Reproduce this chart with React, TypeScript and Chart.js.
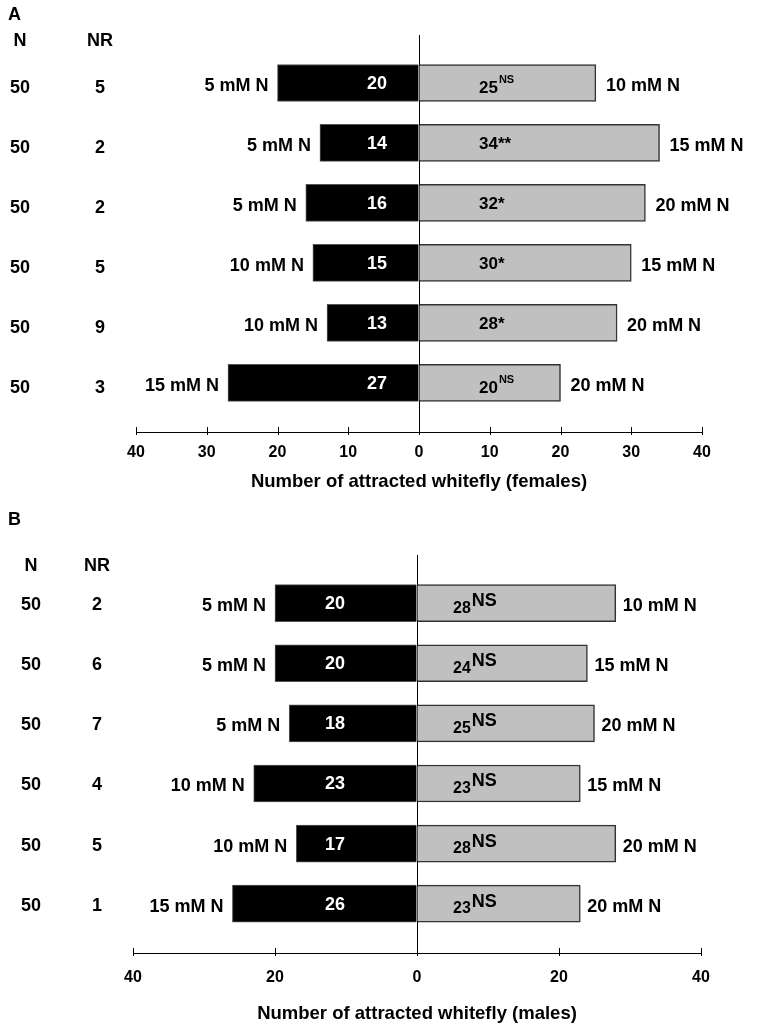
import React, { useEffect, useRef } from 'react';
import { Chart, registerables } from 'chart.js';

Chart.register(...registerables);

// ---------- DATA ----------
const rows = [1, 2, 3, 4, 5, 6];

const leftTreatA = ['5 mM N', '5 mM N', '5 mM N', '10 mM N', '10 mM N', '15 mM N'];
const rightTreatA = ['10 mM N', '15 mM N', '20 mM N', '15 mM N', '20 mM N', '20 mM N'];
const leftCountA = [20, 14, 16, 15, 13, 27];
const rightCountA = [25, 34, 32, 30, 28, 20];
const sigA = ['NS', '**', '*', '*', '*', 'NS'];
const nA = [50, 50, 50, 50, 50, 50];
const nrA = [5, 2, 2, 5, 9, 3];
const tickStepA = 10;
const titleA = 'Number of attracted whitefly (females)';

const leftTreatB = ['5 mM N', '5 mM N', '5 mM N', '10 mM N', '10 mM N', '15 mM N'];
const rightTreatB = ['10 mM N', '15 mM N', '20 mM N', '15 mM N', '20 mM N', '20 mM N'];
const leftCountB = [20, 20, 18, 23, 17, 26];
const rightCountB = [28, 24, 25, 23, 28, 23];
const sigB = ['NS', 'NS', 'NS', 'NS', 'NS', 'NS'];
const nB = [50, 50, 50, 50, 50, 50];
const nrB = [2, 6, 7, 4, 5, 1];
const tickStepB = 20;
const titleB = 'Number of attracted whitefly (males)';

const FONT = '"Liberation Sans", Arial, Helvetica, sans-serif';

type Panel = {
  letter: string;
  leftTreat: string[];
  rightTreat: string[];
  leftCount: number[];
  rightCount: number[];
  sig: string[];
  n: number[];
  nr: number[];
  tickStep: number;
  title: string;
  top: number;
  height: number;
  padLeft: number;
  padRight: number;
  chartTop: number;
  chartBottom: number;
  tickPad: number;
  titlePadBottom: number;
  letterY: number;
  headerDy: number;
  colN: number;
  colNR: number;
  colDy: number;
  gapL: number;
  gapR: number;
  leftValOffset: number;
  rightValOffset: number;
  bigSig: boolean;
};

const panels: Panel[] = [
  {
    letter: 'A', leftTreat: leftTreatA, rightTreat: rightTreatA, leftCount: leftCountA,
    rightCount: rightCountA, sig: sigA, n: nA, nr: nrA, tickStep: tickStepA, title: titleA,
    top: 0, height: 505, padLeft: 136, padRight: 56, chartTop: 35, chartBottom: 432,
    tickPad: 11, titlePadBottom: 12, letterY: 15, headerDy: -42, colN: 20, colNR: 100, colDy: 5,
    gapL: 9, gapR: 10, leftValOffset: 42, rightValOffset: 60, bigSig: false,
  },
  {
    letter: 'B', leftTreat: leftTreatB, rightTreat: rightTreatB, leftCount: leftCountB,
    rightCount: rightCountB, sig: sigB, n: nB, nr: nrB, tickStep: tickStepB, title: titleB,
    top: 505, height: 531, padLeft: 133, padRight: 57, chartTop: 50, chartBottom: 448,
    tickPad: 15, titlePadBottom: 11, letterY: 15, headerDy: -37, colN: 31, colNR: 97, colDy: 2,
    gapL: 9, gapR: 7, leftValOffset: 82, rightValOffset: 36, bigSig: true,
  },
];

function PanelChart({ p }: { p: Panel }) {
  const ref = useRef<HTMLCanvasElement | null>(null);

  useEffect(() => {
    if (!ref.current) return;
    const textPlugin = {
      id: 'panelText',
      afterDraw(chart: any) {
        const ctx = chart.ctx as CanvasRenderingContext2D;
        const xs = chart.scales.x;
        const ys = chart.scales.y;
        const zero = xs.getPixelForValue(0);
        const axisY = chart.chartArea.bottom;
        ctx.save();
        ctx.strokeStyle = '#000';
        ctx.lineWidth = 1;
        xs.ticks.forEach((t: any) => {
          const px = Math.round(xs.getPixelForValue(t.value)) + 0.5;
          ctx.beginPath();
          ctx.moveTo(px, axisY - 5);
          ctx.lineTo(px, axisY + 3);
          ctx.stroke();
        });
        ctx.fillStyle = '#000';
        ctx.font = `bold 18px ${FONT}`;
        ctx.textAlign = 'left';
        ctx.textBaseline = 'middle';
        ctx.fillText(p.letter, 8, p.letterY);
        const y1 = ys.getPixelForValue(rows[0]);
        ctx.textAlign = 'center';
        ctx.fillText('N', p.colN, y1 + p.headerDy);
        ctx.fillText('NR', p.colNR, y1 + p.headerDy);

        rows.forEach((r, i) => {
          const y = ys.getPixelForValue(r);
          ctx.font = `bold 18px ${FONT}`;
          ctx.fillStyle = '#000';
          ctx.textAlign = 'center';
          ctx.fillText(String(p.n[i]), p.colN, y + p.colDy);
          ctx.fillText(String(p.nr[i]), p.colNR, y + p.colDy);
          ctx.textAlign = 'right';
          ctx.fillText(p.leftTreat[i], xs.getPixelForValue(-p.leftCount[i]) - p.gapL, y + 3);
          ctx.textAlign = 'left';
          ctx.fillText(p.rightTreat[i], xs.getPixelForValue(p.rightCount[i]) + p.gapR, y + 3);
          ctx.fillStyle = '#fff';
          ctx.textAlign = 'center';
          ctx.fillText(String(p.leftCount[i]), zero - p.leftValOffset, y + 1);
          ctx.fillStyle = '#000';
          ctx.textAlign = 'left';
          const x0 = zero + p.rightValOffset;
          const num = String(p.rightCount[i]);
          if (p.bigSig) {
            ctx.font = `bold 16px ${FONT}`;
            ctx.fillText(num, x0, y + 5);
            const w = ctx.measureText(num).width;
            ctx.font = `bold 18px ${FONT}`;
            ctx.fillText(p.sig[i], x0 + w + 1, y - 2);
          } else if (p.sig[i] === 'NS') {
            ctx.font = `bold 17px ${FONT}`;
            ctx.fillText(num, x0, y + 5);
            const w = ctx.measureText(num).width;
            ctx.font = `bold 11px ${FONT}`;
            ctx.fillText(p.sig[i], x0 + w + 1, y - 3);
          } else {
            ctx.font = `bold 17px ${FONT}`;
            ctx.fillText(num + p.sig[i], x0, y + 1);
          }
        });
        ctx.restore();
      },
    };

    const chart = new Chart(ref.current, {
      type: 'bar',
      data: {
        datasets: [
          {
            data: rows.map((r, i) => ({ x: -p.leftCount[i], y: r })),
            backgroundColor: '#000000',
            borderColor: '#555555',
            borderWidth: 1,
            barThickness: 37,
            grouped: false,
          } as any,
          {
            data: rows.map((r, i) => ({ x: p.rightCount[i], y: r })),
            backgroundColor: '#c0c0c0',
            borderColor: '#333333',
            borderWidth: 1.5,
            barThickness: 37,
            grouped: false,
          } as any,
        ],
      },
      options: {
        indexAxis: 'y',
        animation: false,
        responsive: false,
        devicePixelRatio: 1,
        layout: { padding: { left: p.padLeft, right: p.padRight, top: p.chartTop, bottom: 0 } },
        plugins: { legend: { display: false }, tooltip: { enabled: false } },
        scales: {
          x: {
            type: 'linear',
            min: -40,
            max: 40,
            offset: false,
            afterFit: (s: any) => {
              s.height = p.height - p.chartBottom;
            },
            ticks: {
              stepSize: p.tickStep,
              padding: p.tickPad,
              color: '#000',
              font: { family: FONT, size: 16, weight: 'bold' },
              callback: (v: any) => String(Math.abs(Number(v))),
            },
            grid: {
              drawOnChartArea: true,
              drawTicks: false,
              offset: false,
              lineWidth: 1,
              color: (c: any) => (c.tick && c.tick.value === 0 ? '#000' : 'rgba(0,0,0,0)'),
            },
            border: { display: true, color: '#000', width: 1 },
            title: {
              display: true,
              text: p.title,
              color: '#000',
              font: { family: FONT, size: 18.5, weight: 'bold' },
              padding: { top: 0, bottom: p.titlePadBottom },
            },
          },
          y: {
            type: 'linear',
            reverse: true,
            offset: false,
            grid: { offset: false },
            min: 0.2,
            max: 6.82,
            display: false,
          },
        },
      } as any,
      plugins: [textPlugin],
    });
    return () => chart.destroy();
  }, [p]);

  return (
    <canvas
      ref={ref}
      width={758}
      height={p.height}
      style={{ position: 'absolute', left: 0, top: p.top, width: 758, height: p.height, display: 'block' }}
    />
  );
}

export default function App() {
  return (
    <div style={{ position: 'absolute', left: 0, top: 0, width: 758, height: 1036, background: '#fff' }}>
      {panels.map((p) => (
        <PanelChart key={p.letter} p={p} />
      ))}
    </div>
  );
}
